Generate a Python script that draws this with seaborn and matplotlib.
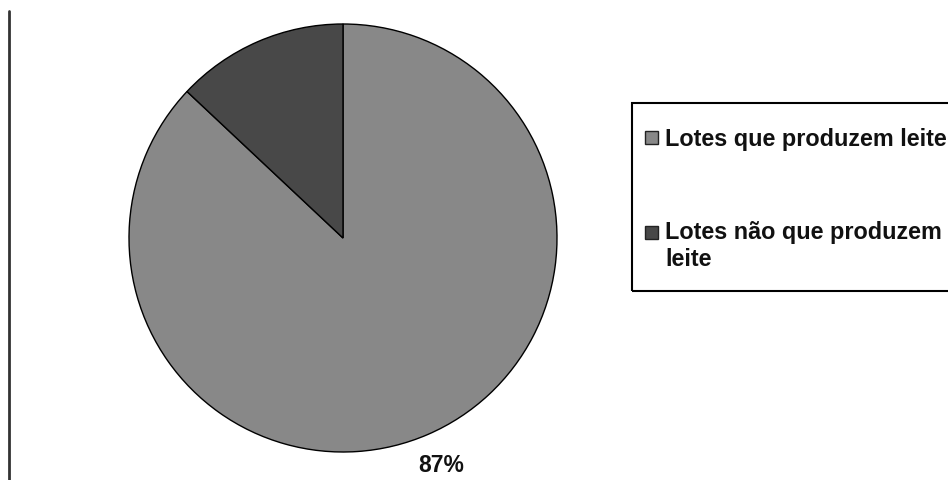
import matplotlib
matplotlib.use("Agg")
import matplotlib.pyplot as plt
import seaborn as sns
from matplotlib.lines import Line2D
from matplotlib.patches import Patch, Rectangle
from matplotlib.legend_handler import HandlerPatch

sns.set_theme(style="white")
plt.rcParams['font.family'] = ['Liberation Sans', 'DejaVu Sans']

categories = ["Lotes que produzem leite", "Lotes não que produzem\nleite"]
values = [87, 13]
shown_labels = ["87%", ""]
colors = ["#888888", "#484848"]

fig = plt.figure(figsize=(9.48, 4.8), dpi=100)
fig.patch.set_facecolor("white")

ax = fig.add_axes([129/948, 1 - 452/480, 428/948, 428/480])
ax.set_aspect("equal")

wedges, texts, autotexts = ax.pie(
    values, colors=colors, startangle=90, counterclock=False,
    autopct="%1.0f%%", pctdistance=1.16,
    wedgeprops=dict(edgecolor="black", linewidth=1.0),
    textprops=dict(fontsize=16.5, fontweight="bold", color="#111111"),
)
for t, lab in zip(autotexts, shown_labels):
    t.set_text(lab)
ax.set_xlim(-1.0, 1.0)
ax.set_ylim(-1.0, 1.0)
ax.axis("off")


def square_handler(lift):
    def make(legend, orig_handle, xdescent, ydescent, width, height, fontsize):
        s = 9.0
        cx = width / 2 - xdescent
        cy = 0.36 * fontsize + lift * fontsize
        return Rectangle((cx - s / 2, cy - s / 2), s, s)
    return HandlerPatch(patch_func=make)


handles = [Patch(facecolor=c, edgecolor="#222222", linewidth=1.0) for c in colors]
leg = fig.legend(
    handles, categories, loc="upper left",
    bbox_to_anchor=(632/948, 1 - 115/480), bbox_transform=fig.transFigure,
    borderaxespad=0, frameon=False,
    prop=dict(family="Liberation Sans", weight="bold", size=16.8),
    handlelength=0.55, handletextpad=0.3,
    labelspacing=3.0, borderpad=0.56,
    handler_map={handles[0]: square_handler(0.0), handles[1]: square_handler(0.6)},
)
for t in leg.get_texts():
    t.set_color("#111111")

# legend frame
fig.add_artist(Rectangle((632/948, 1 - 291/480), (948 - 632 + 10)/948, (291 - 103)/480,
                         transform=fig.transFigure, fill=False,
                         edgecolor="black", linewidth=1.5))

fig.add_artist(Line2D([9/948, 9/948], [0, 1 - 11/480], transform=fig.transFigure,
                      color="#333333", linewidth=2))

fig.savefig("out.png", dpi=100, facecolor="white")
